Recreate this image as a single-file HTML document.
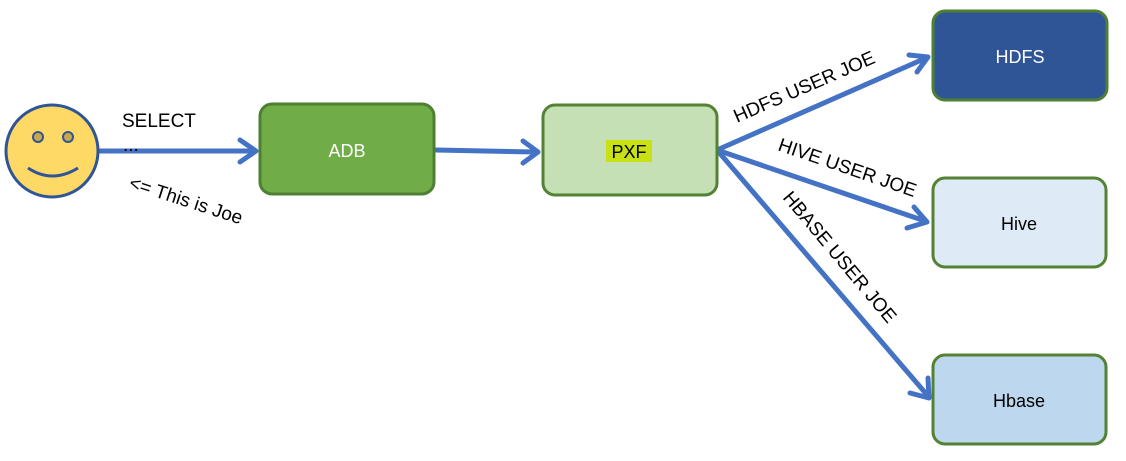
<!DOCTYPE html>
<html><head><style>body{margin:0;background:#fff}</style></head><body>
<svg width="1126" height="456" xmlns="http://www.w3.org/2000/svg" font-family="Liberation Sans, Arial, sans-serif">
<g stroke="#4472C4" stroke-width="5" fill="none" stroke-linecap="round" stroke-linejoin="round">
<line x1="99" y1="151" x2="254" y2="151"/><path d="M240,140 L256,151 L240,162"/>
<line x1="436" y1="150" x2="536" y2="152"/><path d="M523,141 L538,152 L523,163"/>
<line x1="717" y1="150" x2="926" y2="58"/><path d="M909,55 L928,57 L917,72"/>
<line x1="717" y1="150" x2="925" y2="221"/><path d="M914,207 L927,222 L907,228"/>
<line x1="717" y1="150" x2="928" y2="396"/><path d="M928,378 L929,398 L910,393"/>
</g>
<circle cx="52" cy="151" r="46" fill="#FFD966" stroke="#2F5597" stroke-width="3"/>
<circle cx="38" cy="137" r="5" fill="#C9A84C" stroke="#2F5597" stroke-width="2"/>
<circle cx="68" cy="137" r="5" fill="#C9A84C" stroke="#2F5597" stroke-width="2"/>
<path d="M28,168 Q52,184 78,168" fill="none" stroke="#2F5597" stroke-width="3"/>
<rect x="260" y="104" width="174" height="90" rx="12" fill="#70AD47" stroke="#4F7F33" stroke-width="3"/>
<rect x="543" y="105" width="174" height="90" rx="12" fill="#C5E0B4" stroke="#548235" stroke-width="3"/>
<rect x="933" y="11" width="174" height="89" rx="12" fill="#2F5597" stroke="#4F7F33" stroke-width="3"/>
<rect x="933" y="178" width="173" height="89" rx="12" fill="#DEEBF7" stroke="#548235" stroke-width="3"/>
<rect x="933" y="355" width="173" height="89" rx="12" fill="#BDD7EE" stroke="#548235" stroke-width="3"/>
<g font-size="18" text-anchor="middle">
<text x="347" y="157" fill="#fff">ADB</text>
<rect x="606" y="140" width="46" height="22" fill="#C8E014"/>
<text x="629" y="158" fill="#000">PXF</text>
<text x="1020" y="63" fill="#fff">HDFS</text>
<text x="1019" y="230" fill="#000">Hive</text>
<text x="1019" y="407" fill="#000">Hbase</text>
</g>
<g font-size="19" fill="#000">
<text x="122" y="127">SELECT</text>
<text x="123" y="151">...</text>
<text transform="translate(128,188) rotate(18)">&lt;= This is Joe</text>
<text transform="translate(737,123) rotate(-23.5)">HDFS USER JOE</text>
<text transform="translate(777,150) rotate(19)">HIVE USER JOE</text>
<text transform="translate(782,198) rotate(50)">HBASE USER JOE</text>
</g>
</svg>
</body></html>
